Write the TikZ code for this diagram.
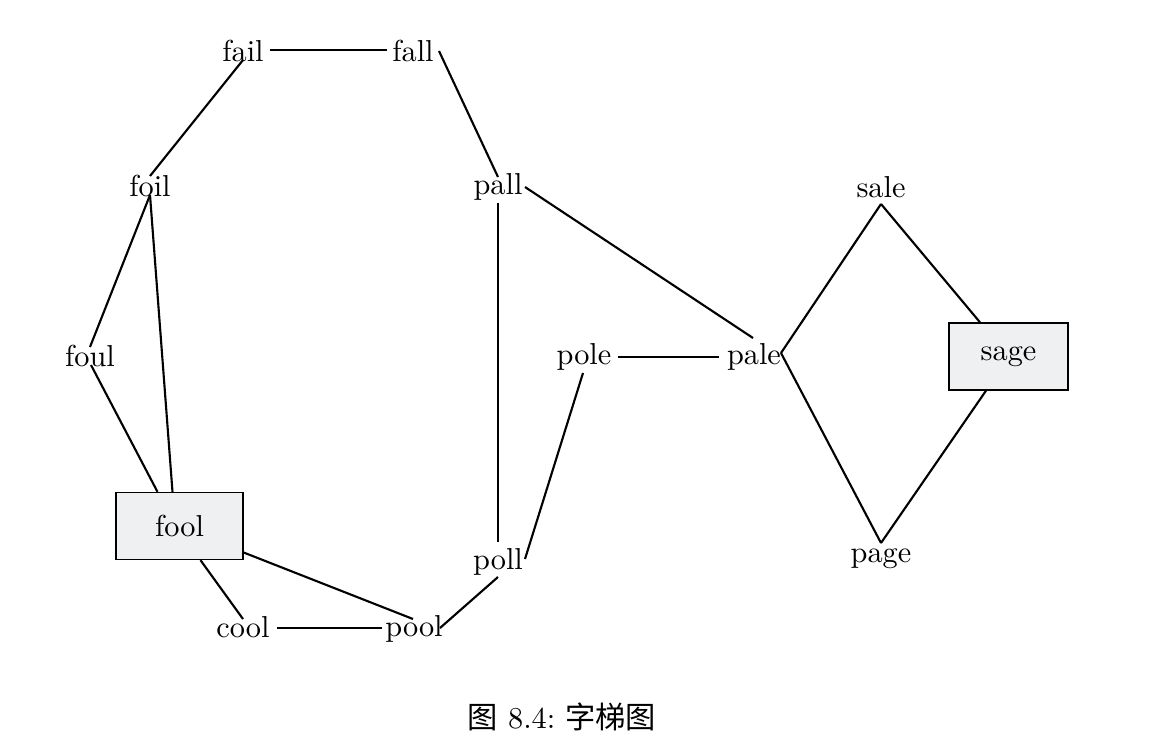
\documentclass[tikz,border=0pt]{standalone}
\usepackage{fontspec}
\newfontfamily\cjk{Noto Sans CJK SC}
\usetikzlibrary{calc}
\definecolor{boxfill}{RGB}{239,240,242}
\begin{document}
\begin{tikzpicture}[x=0.33pt,y=-0.33pt,
  word/.style={inner sep=0pt,anchor=base,font=\fontsize{10}{12}\selectfont},
  wordbox/.style={draw=black,line width=0.45pt,fill=boxfill,inner sep=0pt,
    font=\fontsize{10}{12}\selectfont},
  edge/.style={line width=0.7pt}]
\useasboundingbox (0,0) rectangle (1155,756);
% word nodes (placed at baselines)
\node[word] (fail) at (243,61) {fail};
\node[word] (fall) at (413,61) {fall};
\node[word] (foil) at (150,196) {foil};
\node[word] (pall) at (498,194) {pall};
\node[word] (sale) at (881,197) {sale};
\node[word] (foul) at (90,366) {foul};
\node[word] (pole) at (584,364) {pole};
\node[word] (pale) at (754,364) {pale};
\node[word] (poll) at (498,569) {poll};
\node[word] (page) at (881,562) {page};
\node[word] (cool) at (243,637) {cool};
\node[word] (pool) at (414,636) {pool};
\node[wordbox,minimum width=127*0.33pt,minimum height=67*0.33pt] (fool) at (179.5,526) {fool};
\node[wordbox,minimum width=119*0.33pt,minimum height=67*0.33pt] (sage) at (1008.5,356.5) {sage};
% connectors
\draw[edge] ($(fail.base)+(27,-11)$) -- ($(fall.base)+(-26,-11)$);
\draw[edge] ($(fail.base)+(0,-1)$) -- ($(foil.base)+(0,-20)$);
\draw[edge] ($(fall.base)+(26,-10)$) -- ($(pall.base)+(0,-17)$);
\draw[edge] ($(foil.base)+(0,-1)$) -- ($(foul.base)+(0,-19)$);
\draw[edge] ($(foil.base)+(0,-1)$) -- ($(fool.north)+(-7,0)$);
\draw[edge] ($(foul.base)+(1,-1)$) -- ($(fool.north)+(-22,0)$);
\draw[edge] ($(fool.south)+(21,0)$) -- ($(cool.base)+(0,-18)$);
\draw[edge] ($(fool.east)+(0,26.5)$) -- ($(pool.base)+(-1,-17)$);
\draw[edge] ($(cool.base)+(34,-9)$) -- ($(pool.base)+(-32,-8)$);
\draw[edge] ($(pool.base)+(26,-8)$) -- ($(poll.base)+(0,8)$);
\draw[edge] ($(pall.base)+(0,9)$) -- ($(poll.base)+(0,-27)$);
\draw[edge] ($(poll.base)+(27,-10)$) -- ($(pole.base)+(-1,9)$);
\draw[edge] ($(pole.base)+(34,-7)$) -- ($(pale.base)+(-35,-7)$);
\draw[edge] ($(pall.base)+(27,-7)$) -- ($(pale.base)+(-1,-26)$);
\draw[edge] ($(pale.base)+(27,-11)$) -- ($(sale.base)+(0,7)$);
\draw[edge] ($(pale.base)+(27,-11)$) -- ($(page.base)+(0,-19)$);
\draw[edge] ($(sale.base)+(0,7)$) -- ($(sage.north)+(-28.5,0)$);
\draw[edge] ($(page.base)+(0,-19)$) -- ($(sage.south)+(-22.5,0)$);
% caption
\node[word] (caption) at (562,728) {{\cjk 图}\ 8.4:\ {\cjk 字梯图}};
\end{tikzpicture}
\end{document}
